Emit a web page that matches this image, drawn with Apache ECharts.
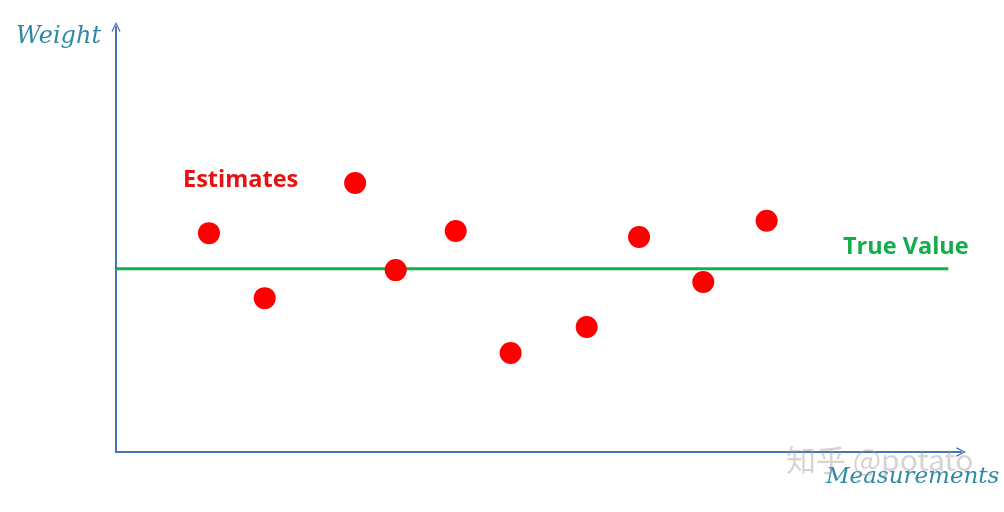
<!DOCTYPE html>
<html>
<head>
<meta charset="utf-8">
<script src="https://cdn.jsdelivr.net/npm/echarts@6/dist/echarts.min.js"></script>
<style>html,body{margin:0;padding:0;background:#fff}#c{width:1004px;height:512px}</style>
</head>
<body>
<div id="c"></div>
<script>
// Measurement positions (x) and estimated weights (y), arbitrary units
const measX = [11.0, 17.6, 28.3, 33.1, 40.2, 46.7, 55.7, 61.9, 69.5, 77.0];
const estimates = [51.5, 36.2, 63.3, 42.8, 52.0, 23.3, 29.4, 50.6, 40.0, 54.4];
const trueValue = 43.1;
const trueLineX = [0, 98.5];
const axisNames = { x: 'Measurements', y: 'Weight' };
const labels = { est: 'Estimates', tv: 'True Value', wm: '知乎 @potato' };

const chart = echarts.init(document.getElementById('c'), null, { renderer: 'canvas' });
const arrow = 'path://M0,10 L5,0 L10,10 L8.8,10.8 L5,2.6 L1.2,10.8 Z';
const axisColor = '#4a72b8';
const axisCommon = {
  type: 'value', min: 0, max: 100,
  axisLine: { show: true, symbol: ['none', arrow], symbolSize: [15, 10], lineStyle: { color: axisColor, width: 2 } },
  axisTick: { show: false }, axisLabel: { show: false }, splitLine: { show: false }
};
chart.setOption({
  animation: false,
  backgroundColor: '#fff',
  grid: { left: 116, right: 43, top: 27, bottom: 60 },
  xAxis: Object.assign({}, axisCommon),
  yAxis: Object.assign({}, axisCommon),
  series: [
    {
      type: 'line',
      data: trueLineX.map(x => [x, trueValue]),
      symbol: 'none',
      lineStyle: { color: '#11b04a', width: 3 },
      z: 2
    },
    {
      type: 'scatter',
      data: measX.map((x, i) => [x, estimates[i]]),
      symbolSize: 22,
      itemStyle: { color: '#ff0000', opacity: 1 },
      z: 3
    }
  ],
  graphic: [
    { type: 'text', left: 16, top: 25, style: { text: axisNames.y, font: 'italic 24px "DejaVu Serif", serif', fill: '#2e8aa3' } },
    { type: 'text', left: 826, top: 466, style: { text: axisNames.x, font: 'italic 23px "DejaVu Serif", serif', fill: '#2e8aa3' } },
    { type: 'text', left: 183, top: 168, style: { text: labels.est, font: 'bold 23.5px "Open Sans", "Liberation Sans", sans-serif', fill: '#e81010' } },
    { type: 'text', left: 843, top: 235, style: { text: labels.tv, font: 'bold 23.5px "Open Sans", "Liberation Sans", sans-serif', fill: '#14ad4c' } },
    { type: 'text', left: 786, top: 445, z: 100, style: { text: labels.wm, font: '30px "Noto Sans CJK SC", sans-serif', fill: 'rgba(160,160,160,0.45)' } }
  ]
});
</script>
</body>
</html>
